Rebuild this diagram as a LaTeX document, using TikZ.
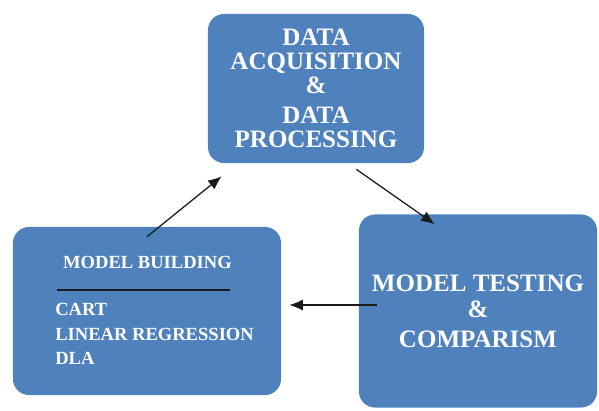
\documentclass[tikz,border=0pt]{standalone}
\usepackage{fontspec}
\setmainfont{Liberation Serif}
\usepackage{xcolor}
\definecolor{cBox}{HTML}{4F81BD}
\definecolor{cLine}{HTML}{1A1A1A}
\usepackage{tikz}
\usetikzlibrary{arrows.meta}
\tikzset{
  node-box/.style={fill=cBox,rounded corners=4mm,align=center,
    text=white,font=\bfseries},
  node-big/.style={font=\bfseries\fontsize{17.8}{17}\selectfont},
  node-small/.style={text=white,inner sep=0pt,
    font=\bfseries\fontsize{13.2}{17.4}\selectfont},
  arrow/.style={-{Latex[length=3.4mm,width=2.8mm]},line width=0.9pt,draw=cLine},
}

\begin{document}
\begin{tikzpicture}[x=0.025cm,y=-0.025cm]
  \useasboundingbox (0,0) rectangle (599,410);
  \node[node-box,node-big,minimum width=5.4cm,minimum height=3.725cm] (acq) at (316,88.5)
    {DATA\\ACQUISITION\\\&\\[4.5pt]DATA\\PROCESSING};
  \node[node-box,minimum width=6.7cm,minimum height=4.2cm] (build) at (147,311) {};
  \node[node-box,node-big,minimum width=5.95cm,minimum height=4.825cm] (test) at (478,311)
    {MODEL TESTING\\[2pt]\&\\[4pt]COMPARISM};
  \node[node-small] (build-title) at (147.5,262) {MODEL BUILDING};
  \draw[line width=1pt,draw=cLine] (57,290) -- (230,290);
  \node[node-small,anchor=west,align=left] (build-list) at (55,334)
    {CART\\LINEAR REGRESSION\\DLA};
  \draw[arrow] ([yshift=-0.25cm]build.north) -- ([xshift=0.35cm,yshift=-0.325cm]acq.south west);
  \draw[arrow] ([xshift=-1.7cm,yshift=-0.15cm]acq.south east) -- ([xshift=1.9cm,yshift=-0.25cm]test.north west);
  \draw[arrow] ([xshift=0.45cm,yshift=0.15cm]test.west) -- ([xshift=0.2cm,yshift=0.15cm]build.east);
\end{tikzpicture}
\end{document}
